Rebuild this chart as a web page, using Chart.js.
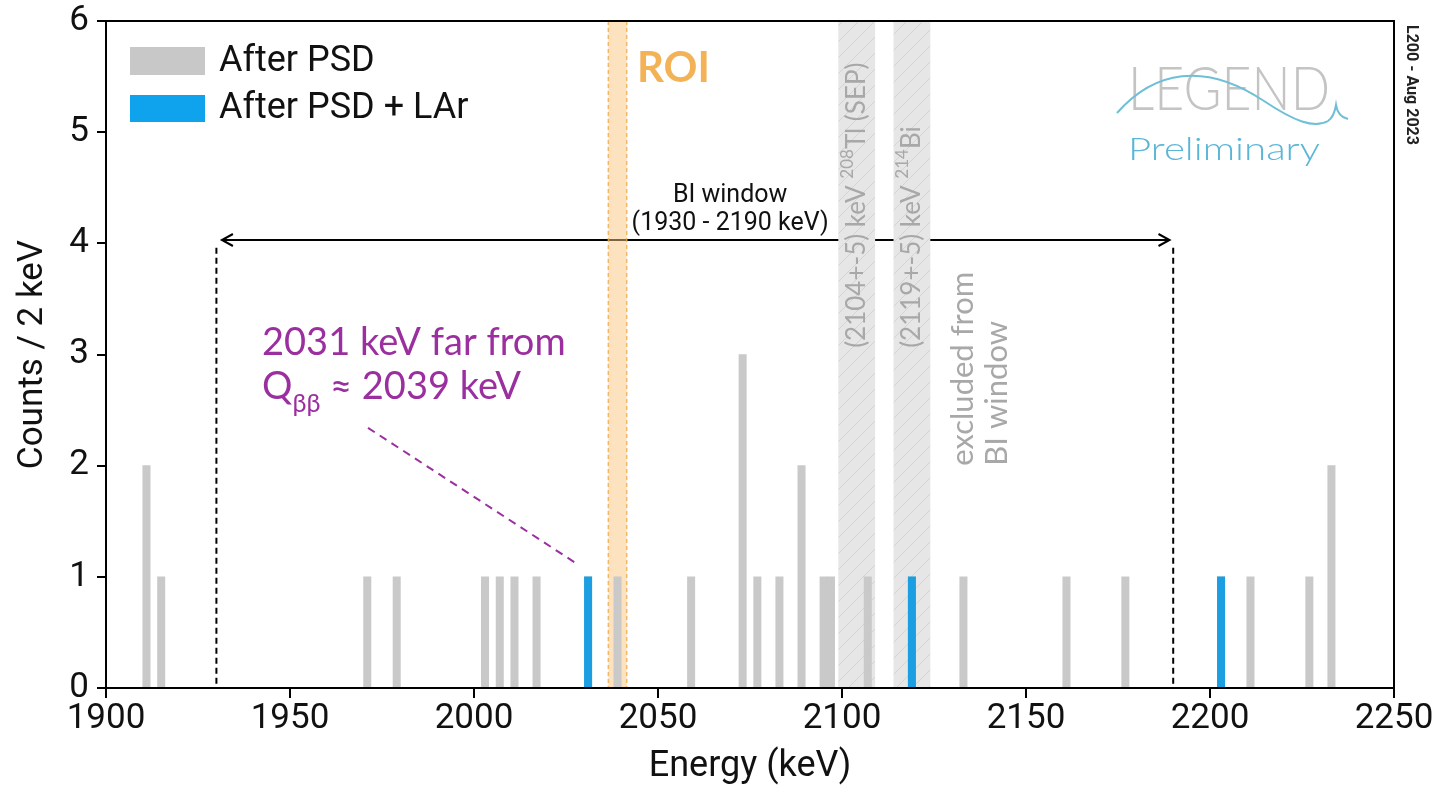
<!DOCTYPE html>
<html>
<head>
<meta charset="utf-8">
<script src="https://cdn.jsdelivr.net/npm/chart.js@4/dist/chart.umd.min.js"></script>
<style>
  html, body { margin: 0; padding: 0; background: #fff; }
  #wrap { width: 1440px; height: 789px; }
</style>
</head>
<body>
<div id="wrap"><canvas id="myChart" width="1440" height="789"></canvas></div>
<script>
// events per 2 keV bin (bin centre in keV)
const psdEnergy = [1911, 1915, 1971, 1979, 2003, 2007, 2011, 2017, 2031, 2039, 2059, 2073, 2077,
                   2083, 2089, 2095, 2097, 2107, 2119, 2133, 2161, 2177, 2203, 2211, 2227, 2233];
const psdCounts = [2, 1, 1, 1, 1, 1, 1, 1, 1, 1, 1, 3, 1,
                   1, 2, 1, 1, 1, 1, 1, 1, 1, 1, 1, 1, 2];
const larEnergy = [2031, 2119, 2203];
const larCounts = [1, 1, 1];

const xTicks = [1900, 1950, 2000, 2050, 2100, 2150, 2200, 2250];
const yTicks = [0, 1, 2, 3, 4, 5, 6];

// annotation ranges (keV)
const roiRange = [2036.5, 2041.5];
const biWindow = [1930, 2190];
const excluded = [[2099, 2109], [2114, 2124]];

Chart.defaults.font.family = 'Roboto';
Chart.defaults.color = '#000';

// hatch pattern for the excluded bands
function hatch() {
  const c = document.createElement('canvas');
  c.width = 16; c.height = 16;
  const g = c.getContext('2d');
  g.fillStyle = '#e6e6e6';
  g.fillRect(0, 0, 16, 16);
  g.strokeStyle = '#d4d4d4';
  g.lineWidth = 1;
  g.beginPath();
  g.moveTo(0, 16); g.lineTo(16, 0);
  g.moveTo(-8, 8); g.lineTo(8, -8);
  g.moveTo(8, 24); g.lineTo(24, 8);
  g.stroke();
  return g.createPattern(c, 'repeat');
}

// draw text pieces one after another (for super/subscripts)
function rich(ctx, parts, x, y) {
  let cx = x;
  parts.forEach(p => {
    ctx.font = p.f;
    ctx.fillText(p.t, cx, y + (p.dy || 0));
    cx += ctx.measureText(p.t).width;
  });
}

const overlay = {
  id: 'overlay',
  beforeDatasetsDraw(chart) {
    const {ctx, chartArea: a, scales: {x, y}} = chart;
    ctx.save();
    ctx.beginPath();
    ctx.rect(a.left, a.top, a.width, a.height);
    ctx.clip();

    // BI window arrow
    const ay = y.getPixelForValue(4.03);
    const x0 = x.getPixelForValue(biWindow[0] + 1.5), x1 = x.getPixelForValue(biWindow[1] - 1);
    ctx.strokeStyle = '#000';
    ctx.lineWidth = 2;
    ctx.beginPath();
    ctx.moveTo(x0, ay); ctx.lineTo(x1, ay);
    ctx.moveTo(x0 + 11, ay - 6); ctx.lineTo(x0, ay); ctx.lineTo(x0 + 11, ay + 6);
    ctx.moveTo(x1 - 11, ay - 6); ctx.lineTo(x1, ay); ctx.lineTo(x1 - 11, ay + 6);
    ctx.stroke();

    // dashed window edges
    ctx.setLineDash([6, 4]);
    biWindow.forEach(e => {
      const px = x.getPixelForValue(e);
      ctx.beginPath();
      ctx.moveTo(px, y.getPixelForValue(3.96));
      ctx.lineTo(px, y.getPixelForValue(0));
      ctx.stroke();
    });
    ctx.setLineDash([]);

    // excluded bands
    const pat = hatch();
    excluded.forEach(r => {
      const l = x.getPixelForValue(r[0]), rr = x.getPixelForValue(r[1]);
      ctx.fillStyle = pat;
      ctx.fillRect(l, a.top, rr - l, a.height);
    });

    // ROI band
    const rl = x.getPixelForValue(roiRange[0]), rr = x.getPixelForValue(roiRange[1]);
    ctx.fillStyle = 'rgba(250, 198, 125, 0.5)';
    ctx.fillRect(rl, a.top, rr - rl, a.height);
    ctx.strokeStyle = 'rgba(240, 170, 80, 0.8)';
    ctx.lineWidth = 1.5;
    ctx.setLineDash([4, 3]);
    [rl, rr].forEach(px => {
      ctx.beginPath(); ctx.moveTo(px, a.top); ctx.lineTo(px, a.bottom); ctx.stroke();
    });
    ctx.setLineDash([]);
    ctx.restore();
  },
  afterDraw(chart) {
    const {ctx, chartArea: a, scales: {x, y}} = chart;
    ctx.save();

    // full frame
    ctx.strokeStyle = '#000';
    ctx.lineWidth = 2;
    ctx.strokeRect(a.left, a.top, a.width, a.height);

    // legend
    ctx.fillStyle = '#c8c8c8';
    ctx.fillRect(a.left + 24, a.top + 26, 75, 28);
    ctx.fillStyle = '#0fa3ee';
    ctx.fillRect(a.left + 24, a.top + 74, 75, 27);
    ctx.fillStyle = '#111';
    ctx.font = '36px Roboto';
    ctx.textBaseline = 'middle';
    ctx.fillText('After PSD', a.left + 113, a.top + 41);
    ctx.fillText('After PSD + LAr', a.left + 113, a.top + 88);

    // ROI label
    ctx.fillStyle = '#f4b257';
    ctx.font = 'bold 42px Lato';
    ctx.textBaseline = 'alphabetic';
    ctx.fillText('ROI', x.getPixelForValue(2044.3), y.getPixelForValue(5.45));

    // BI window label
    ctx.fillStyle = '#111';
    ctx.font = '25px Roboto';
    ctx.textAlign = 'center';
    ctx.textBaseline = 'middle';
    ctx.fillText('BI window', x.getPixelForValue(2069.6), y.getPixelForValue(4.43));
    ctx.fillText('(1930 - 2190 keV)', x.getPixelForValue(2069.6), y.getPixelForValue(4.18));
    ctx.textAlign = 'left';

    // rotated band labels
    ctx.fillStyle = '#a8a8a8';
    const vtext = (ex, ey, parts) => {
      ctx.save();
      ctx.translate(x.getPixelForValue(ex), y.getPixelForValue(ey));
      ctx.rotate(-Math.PI / 2);
      ctx.textBaseline = 'middle';
      rich(ctx, parts, 0, 0);
      ctx.restore();
    };
    const bf = '26px Lato', sf = '17px Lato';
    vtext(2104, 3.06, [{t: '(2104+-5) keV ', f: bf}, {t: '208', f: sf, dy: -9}, {t: 'Tl (SEP)', f: bf}]);
    vtext(2119, 3.06, [{t: '(2119+-5) keV ', f: bf}, {t: '214', f: sf, dy: -9}, {t: 'Bi', f: bf}]);
    vtext(2133, 2.0, [{t: 'excluded from', f: '31px Lato'}]);
    vtext(2142, 2.0, [{t: 'BI window', f: '31px Lato'}]);

    // 2031 keV annotation
    ctx.fillStyle = '#9b2f9f';
    ctx.textBaseline = 'alphabetic';
    const tx = x.getPixelForValue(1942.4);
    ctx.font = '38px Lato';
    ctx.fillText('2031 keV far from', tx, y.getPixelForValue(3.0));
    rich(ctx, [{t: 'Q', f: '38px Lato'}, {t: 'ββ', f: '25px Lato', dy: 13}, {t: ' ≈ 2039 keV', f: '38px Lato'}],
         tx, y.getPixelForValue(2.6));
    ctx.strokeStyle = '#9b2f9f';
    ctx.lineWidth = 2;
    ctx.setLineDash([8, 6]);
    ctx.beginPath();
    ctx.moveTo(x.getPixelForValue(1971.2), y.getPixelForValue(2.34));
    ctx.lineTo(x.getPixelForValue(2028.3), y.getPixelForValue(1.11));
    ctx.stroke();
    ctx.setLineDash([]);

    // LEGEND logo
    ctx.fillStyle = '#c4c4c4';
    ctx.font = '300 62px Lato';
    const lw = ctx.measureText('LEGEND').width;
    ctx.save();
    ctx.translate(a.right - 266, a.top + 89);
    ctx.scale(202 / lw, 1);
    ctx.fillText('LEGEND', 0, 0);
    ctx.restore();
    ctx.strokeStyle = '#6fbfd6';
    ctx.lineWidth = 2;
    ctx.beginPath();
    ctx.moveTo(a.right - 277, a.top + 92);
    ctx.bezierCurveTo(a.right - 240, a.top + 50, a.right - 190, a.top + 40, a.right - 130, a.top + 80);
    ctx.bezierCurveTo(a.right - 100, a.top + 100, a.right - 80, a.top + 108, a.right - 66, a.top + 100);
    ctx.quadraticCurveTo(a.right - 60, a.top + 96, a.right - 58, a.top + 84);
    ctx.quadraticCurveTo(a.right - 56, a.top + 96, a.right - 46, a.top + 98);
    ctx.stroke();
    ctx.fillStyle = '#5ab6d8';
    ctx.font = '300 32px Lato';
    const pw = ctx.measureText('Preliminary').width;
    ctx.save();
    ctx.translate(a.right - 266, a.top + 139);
    ctx.scale(192 / pw, 1);
    ctx.fillText('Preliminary', 0, 0);
    ctx.restore();

    // side stamp
    ctx.save();
    ctx.fillStyle = '#222';
    ctx.font = 'bold 16px Roboto';
    ctx.translate(a.right + 9, a.top + 4);
    ctx.rotate(Math.PI / 2);
    ctx.textBaseline = 'bottom';
    ctx.fillText('L200 - Aug 2023', 0, 0);
    ctx.restore();

    ctx.restore();
  }
};

const ctx = document.getElementById('myChart');
const myChart = new Chart(ctx, {
  type: 'bar',
  data: {
    datasets: [
      {
        label: 'After PSD + LAr',
        data: larEnergy.map((e, i) => ({x: e, y: larCounts[i]})),
        backgroundColor: '#1b9fe2',
        order: 0
      },
      {
        label: 'After PSD',
        data: psdEnergy.map((e, i) => ({x: e, y: psdCounts[i]})),
        backgroundColor: '#c9c9c9',
        order: 1
      }
    ]
  },
  options: {
    responsive: false,
    animation: false,
    grouped: false,
    barPercentage: 1,
    categoryPercentage: 1,
    layout: { padding: { top: 21, right: 46, left: 0, bottom: 0 } },
    plugins: {
      legend: { display: false },
      tooltip: { enabled: false }
    },
    scales: {
      x: {
        type: 'linear',
        min: xTicks[0],
        max: xTicks[xTicks.length - 1],
        offset: false,
        afterBuildTicks: s => { s.ticks = xTicks.map(v => ({value: v})); },
        afterFit: s => { s.height = 101; },
        ticks: { font: { size: 35 }, color: '#111', padding: 0, maxRotation: 0, autoSkip: false,
                 callback: v => String(v) },
        grid: { offset: false, drawOnChartArea: false, drawTicks: true, tickLength: 10, color: '#000', lineWidth: 2 },
        border: { color: '#000', width: 2 },
        title: { display: true, text: 'Energy (keV)', font: { size: 36 }, color: '#111', padding: { top: 0, bottom: 0 } }
      },
      y: {
        min: yTicks[0],
        max: yTicks[yTicks.length - 1],
        afterBuildTicks: s => { s.ticks = yTicks.map(v => ({value: v})); },
        afterFit: s => { s.width = 106; },
        ticks: { font: { size: 35, lineHeight: 0.7 }, color: '#111', padding: 8 },
        grid: { drawOnChartArea: false, drawTicks: true, tickLength: 9, color: '#000', lineWidth: 2 },
        border: { color: '#000', width: 2 },
        title: { display: true, text: 'Counts / 2 keV', font: { size: 35 }, color: '#111', padding: { top: 12, bottom: 0 } }
      }
    }
  },
  plugins: [overlay]
});
</script>
</body>
</html>
